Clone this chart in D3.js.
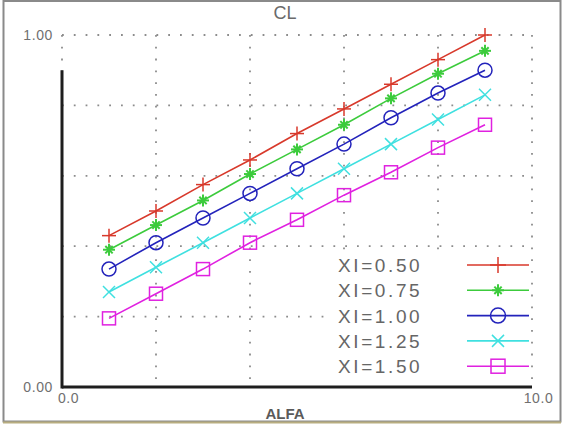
<!DOCTYPE html>
<html><head><meta charset="utf-8">
<script src="https://cdn.jsdelivr.net/npm/d3@7"></script>
<style>
html,body{margin:0;padding:0;background:#fff;}
svg{display:block;}
text{font-family:"Liberation Sans",Arial,sans-serif;}
</style></head>
<body>
<script>
const alfa = [1,2,3,4,5,6,7,8,9];
const seriesNames = ["XI=0.50","XI=0.75","XI=1.00","XI=1.25","XI=1.50"];
const cl050 = [0.43,0.50,0.575,0.645,0.72,0.79,0.86,0.93,1.00];
const cl075 = [0.39,0.46,0.53,0.605,0.675,0.745,0.82,0.89,0.955];
const cl100 = [0.335,0.41,0.48,0.55,0.62,0.69,0.765,0.835,0.90];
const cl125 = [0.27,0.34,0.41,0.48,0.55,0.62,0.69,0.76,0.83];
const cl150 = [0.195,0.265,0.335,0.41,0.475,0.545,0.61,0.68,0.745];
const xTickLabels = ["0.0","10.0"];
const yTickLabels = ["0.00","1.00"];
const gridX = [0,2,4,6,8,10];
const gridY = [0.2,0.4,0.6,0.8,1.0];

const colors = ["#d8392b","#3ccb3c","#2323bb","#3fe0e0","#e021e0"];
const symbols = ["plus","star","circle","cross","square"];
const allSeries = [cl050,cl075,cl100,cl125,cl150];

const W=564,H=427;
const svg=d3.select("body").append("svg").attr("width",W).attr("height",H);
svg.append("rect").attr("x",0).attr("y",0).attr("width",W).attr("height",H).attr("fill","#fff");
// outer frame
svg.append("rect").attr("x",3.5).attr("y",1).attr("width",557).attr("height",420.5)
  .attr("fill","none").attr("stroke","#8a8a8a").attr("stroke-width",2);
svg.append("line").attr("x1",3).attr("x2",561).attr("y1",422.5).attr("y2",422.5).attr("stroke","#b8ad80").attr("stroke-width",2);

const x=d3.scaleLinear().domain([0,10]).range([62,532]);
const y=d3.scaleLinear().domain([0,1]).range([387,35]);

// grid
const grid=svg.append("g").attr("stroke","#8c8c8c").attr("stroke-width",1.8).attr("stroke-dasharray","1.8,10").attr("fill","none");
gridY.forEach(v=>grid.append("line").attr("x1",x(0)).attr("x2",x(10)).attr("y1",y(v)).attr("y2",y(v)));
gridX.forEach(v=>grid.append("line").attr("x1",x(v)).attr("x2",x(v)).attr("y1",y(1)).attr("y2",y(0)));

// legend background
svg.append("rect").attr("x",328).attr("y",251).attr("width",201).attr("height",132).attr("fill","#fff");

// axes
svg.append("line").attr("x1",x(0)).attr("x2",x(0)).attr("y1",y(0.9)).attr("y2",y(0)+1.5).attr("stroke","#1e1e1e").attr("stroke-width",3);
svg.append("line").attr("x1",x(0)).attr("x2",x(10)).attr("y1",y(0)).attr("y2",y(0)).attr("stroke","#1e1e1e").attr("stroke-width",3);

const yAxis=d3.axisLeft(y).tickValues([0,1]).tickSize(0).tickPadding(9).tickFormat((d,i)=>yTickLabels[i]);
const gy=svg.append("g").attr("transform",`translate(${x(0)},0)`).call(yAxis);
gy.select(".domain").remove();
gy.selectAll("text").attr("font-size",14).attr("fill","#707070").attr("letter-spacing",0.6).style("font-family","Liberation Sans, Arial");

const xAxis=d3.axisBottom(x).tickValues([0,10]).tickSize(0).tickPadding(6).tickFormat((d,i)=>xTickLabels[i]);
const gx=svg.append("g").attr("transform",`translate(0,${y(0)})`).call(xAxis);
gx.select(".domain").remove();
gx.selectAll("text").attr("font-size",14).attr("fill","#707070").attr("dx",6).attr("letter-spacing",0.6).style("font-family","Liberation Sans, Arial");

// title & axis label
svg.append("text").attr("x",285).attr("y",18.5).attr("text-anchor","middle").attr("font-size",18).attr("fill","#6a6a6a").text("CL");
svg.append("text").attr("x",285).attr("y",419).attr("text-anchor","middle").attr("font-size",15).attr("font-weight","bold").attr("fill","#5a5a5a").text("ALFA");

function marker(g,type,cx,cy,s,color){
  const m=g.append("g").attr("transform",`translate(${cx},${cy})`).attr("stroke",color).attr("fill","none").attr("stroke-width",1.5);
  if(type==="plus"){
    m.append("line").attr("x1",-s).attr("x2",s).attr("y1",0).attr("y2",0);
    m.append("line").attr("x1",0).attr("x2",0).attr("y1",-s).attr("y2",s);
  } else if(type==="star"){
    const t=s*0.85;
    m.append("line").attr("x1",-s).attr("x2",s).attr("y1",0).attr("y2",0);
    m.append("line").attr("x1",0).attr("x2",0).attr("y1",-s).attr("y2",s);
    m.append("line").attr("x1",-t*0.72).attr("x2",t*0.72).attr("y1",-t*0.72).attr("y2",t*0.72);
    m.append("line").attr("x1",-t*0.72).attr("x2",t*0.72).attr("y1",t*0.72).attr("y2",-t*0.72);
    m.attr("stroke-width",2);
  } else if(type==="circle"){
    m.append("circle").attr("r",s);
  } else if(type==="cross"){
    m.append("line").attr("x1",-s).attr("x2",s).attr("y1",-s).attr("y2",s);
    m.append("line").attr("x1",-s).attr("x2",s).attr("y1",s).attr("y2",-s);
  } else if(type==="square"){
    m.append("rect").attr("x",-s).attr("y",-s).attr("width",2*s).attr("height",2*s);
  }
}
const sizes=[7,6,7,6,6.5];

const line=d3.line().x((d,i)=>x(alfa[i])).y(d=>y(d));
allSeries.forEach((vals,k)=>{
  const g=svg.append("g");
  g.append("path").attr("d",line(vals)).attr("fill","none").attr("stroke",colors[k]).attr("stroke-width",1.6);
  vals.forEach((v,i)=>marker(g,symbols[k],x(alfa[i]),y(v),sizes[k],colors[k]));
});

// legend
const lg=svg.append("g");
seriesNames.forEach((name,k)=>{
  const cy=265+k*25.3;
  lg.append("text").attr("x",338).attr("y",cy+7).attr("font-size",19).attr("letter-spacing",2.6).attr("fill","#666").text(name);
  lg.append("line").attr("x1",467).attr("x2",529).attr("y1",cy).attr("y2",cy).attr("stroke",colors[k]).attr("stroke-width",1.6);
  marker(lg,symbols[k],498,cy,[8,6,7.5,6,7][k],colors[k]);
});
</script>
</body></html>
